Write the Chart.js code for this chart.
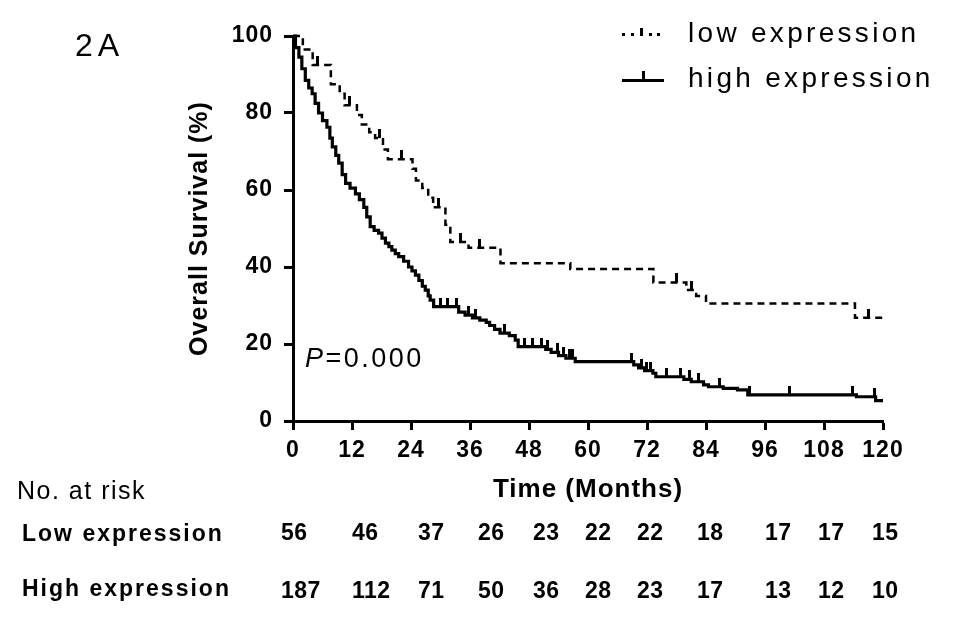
<!DOCTYPE html>
<html><head><meta charset="utf-8">
<script src="https://cdn.jsdelivr.net/npm/chart.js@4.4.1/dist/chart.umd.min.js"></script>
<style>
body{margin:0;background:#fff;}
#wrap{position:relative;width:954px;height:629px;overflow:hidden;font-family:"Liberation Sans",Arial,sans-serif;color:#000;background:#fff;}
canvas{position:absolute;left:0;top:0;}
.t{position:absolute;white-space:nowrap;line-height:1;}
.b{font-weight:bold;}
.leg{position:absolute;background:#000;}
</style></head><body>
<div id="wrap">
<canvas id="c" width="954" height="629"></canvas>
<div class="t" style="left:75px;top:29px;font-size:32px;letter-spacing:5px;">2A</div>
<div class="t" style="left:688px;top:19px;font-size:28px;letter-spacing:3.3px;">low expression</div>
<div class="t" style="left:688px;top:64px;font-size:28px;letter-spacing:3.3px;">high expression</div>
<div class="t" style="left:305px;top:345px;font-size:27px;letter-spacing:2.5px;"><i>P</i>=0.000</div>
<div class="t" style="left:17px;top:478px;font-size:25px;letter-spacing:1.5px;">No. at risk</div>
<div class="t b" style="left:22px;top:522px;font-size:23px;letter-spacing:2px;">Low expression</div>
<div class="t b" style="left:22px;top:577px;font-size:23px;letter-spacing:2px;">High expression</div>
<div id="legLow"></div>
<div id="legHigh"></div>
<div id="risk"></div>
</div>
<script>
// ---- data ----
const lowTimes = [0,2,4,7.7,9.5,10.5,13,14,15.5,16.7,18.3,19.3,24.3,25,26.3,27.5,28.5,31,32,35.7,42.2,56.4,73.3,80,82,84,114.3,120];
const lowSurv  = [100,96.5,92.5,87.5,85,82,79.5,77,75,73.5,70.5,68,65.5,62.5,60.5,58,55.5,51,46.5,45,41,39.5,36,34,32.5,30.5,26.8,26.8];
const highTimes = [0,0.5,1.2,1.8,2.5,3.2,3.9,4.5,5.2,6,6.9,7.5,8,8.7,9.3,10,10.7,11.6,12.7,13.5,14.4,15,15.7,16.5,17.4,18.1,18.8,19.5,20.1,20.8,21.5,22.5,23.5,24.2,24.9,25.6,26.3,26.9,27.5,27.9,28.6,33.7,35,36.5,38,39.3,40,41,42.1,44,45.2,45.8,51.4,52.5,54,55.5,57.4,69.3,70.3,71.5,73.2,73.8,79.5,81,83.5,84.5,87.5,90.4,92.5,114.6,118.5,120];
const highSurv  = [100,97,94.5,91.5,88.5,86.5,85,82.5,80,78,76.3,73.5,71.2,69,67,64,61.7,60.5,59,57.5,55.5,53,50.5,49.5,48.8,47.5,46.2,45.3,44.4,43.5,42.7,41.5,40,39,37.9,36.5,35,34,32.5,31.4,29.7,28.3,27.5,26.8,26.2,25.6,24.8,23.8,22.8,22.2,21,19.3,18.6,17.8,17,16.3,15.4,14.6,13.8,13.1,12.4,11.5,10.8,10.2,9.4,8.9,8.5,8.1,6.8,6.3,5.3,5.3];
const lowCensor  = [5,11.5,17.5,22,29.5,34,38,78,81,117];
const highCensor = [30,31.5,33.2,35.7,37.2,43,47,48.7,50.6,51.8,53.7,55,56.2,56.9,68.9,70.8,71.8,72.8,76,78.8,80.6,82.5,86.8,92.9,101,113.8,118.2];
const xTicks = [0,12,24,36,48,60,72,84,96,108,120];
const yTicks = [0,20,40,60,80,100];
const riskLow  = [56,46,37,26,23,22,22,18,17,17,15];
const riskHigh = [187,112,71,50,36,28,23,17,13,12,10];
const seriesNames = ['low expression','high expression'];

// ---- layout (not data) ----
const riskLeft = [281,352,418,478,533,585,637,697,765,818,872];

function survAt(T,S,t){let v=S[0];for(let i=0;i<T.length;i++){if(T[i]<=t)v=S[i];}return v;}
function tickImg(w,h){const c=document.createElement('canvas');c.width=w;c.height=h*2;const g=c.getContext('2d');g.fillStyle='#000';g.fillRect(0,0,w,h);return c;}
const tick = tickImg(3,9);

const risk=document.getElementById('risk');
riskLow.forEach((v,i)=>{const d=document.createElement('div');d.className='t b';d.style.cssText=`left:${riskLeft[i]}px;top:521px;font-size:23px;letter-spacing:0.5px;`;d.textContent=v;risk.appendChild(d);});
riskHigh.forEach((v,i)=>{const d=document.createElement('div');d.className='t b';d.style.cssText=`left:${riskLeft[i]}px;top:579px;font-size:23px;letter-spacing:0.5px;`;d.textContent=v;risk.appendChild(d);});

// legend samples
const lL=document.getElementById('legLow');
[622,631,649,657].forEach(x=>{const d=document.createElement('div');d.className='leg';d.style.cssText=`left:${x}px;top:33px;width:3px;height:3px;`;lL.appendChild(d);});
(()=>{const d=document.createElement('div');d.className='leg';d.style.cssText='left:640px;top:28px;width:3px;height:8px;';lL.appendChild(d);})();
const lH=document.getElementById('legHigh');
(()=>{let d=document.createElement('div');d.className='leg';d.style.cssText='left:622px;top:79px;width:42px;height:3px;';lH.appendChild(d);
d=document.createElement('div');d.className='leg';d.style.cssText='left:642px;top:71px;width:3px;height:10px;';lH.appendChild(d);})();

Chart.defaults.font.family="'Liberation Sans', Arial, sans-serif";
Chart.defaults.color='#000';
const sp={id:'sp',beforeLayout(c){c.ctx.letterSpacing='1px';},beforeDraw(c){c.ctx.letterSpacing='1px';}};

new Chart(document.getElementById('c'),{
  type:'line',
  data:{datasets:[
    {label:seriesNames[0],data:lowTimes.map((t,i)=>({x:t,y:lowSurv[i]})),stepped:'before',borderColor:'#000',borderWidth:2.5,borderDash:[7,5],pointRadius:0,fill:false,clip:6},
    {label:seriesNames[1],data:highTimes.map((t,i)=>({x:t,y:highSurv[i]})),stepped:'before',borderColor:'#000',borderWidth:3.2,pointRadius:0,fill:false,clip:6},
    {label:'low censored',data:lowCensor.map(t=>({x:t,y:survAt(lowTimes,lowSurv,t)})),showLine:false,pointStyle:tick,pointRadius:3,clip:false},
    {label:'high censored',data:highCensor.map(t=>({x:t,y:survAt(highTimes,highSurv,t)})),showLine:false,pointStyle:tick,pointRadius:3,clip:false}
  ]},
  options:{
    responsive:false,animation:false,events:[],devicePixelRatio:1,
    layout:{padding:{left:185,top:36,right:71,bottom:124}},
    plugins:{legend:{display:false},tooltip:{enabled:false}},
    scales:{
      x:{type:'linear',min:0,max:120,
        afterBuildTicks:s=>{s.ticks=xTicks.map(v=>({value:v}));},
        afterFit:s=>{s.height=84;},
        ticks:{font:{size:23,weight:'bold'},padding:7,maxRotation:0,autoSkip:false},
        grid:{drawOnChartArea:false,drawTicks:true,tickLength:9,tickWidth:3,tickColor:'#000'},
        border:{display:true,width:3,color:'#000'},
        title:{display:true,text:'Time (Months)',font:{size:26,weight:'bold'},padding:0}},
      y:{min:0,max:100,
        afterBuildTicks:s=>{s.ticks=yTicks.map(v=>({value:v}));},
        afterFit:s=>{s.width=108;},
        ticks:{font:{size:23,weight:'bold'},padding:11},
        grid:{drawOnChartArea:false,drawTicks:true,tickLength:9,tickWidth:3,tickColor:'#000'},
        border:{display:true,width:3,color:'#000'},
        title:{display:true,text:'Overall Survival (%)',font:{size:25,weight:'bold'},padding:0}}
    }
  },
  plugins:[sp]
});
</script>
</body></html>
